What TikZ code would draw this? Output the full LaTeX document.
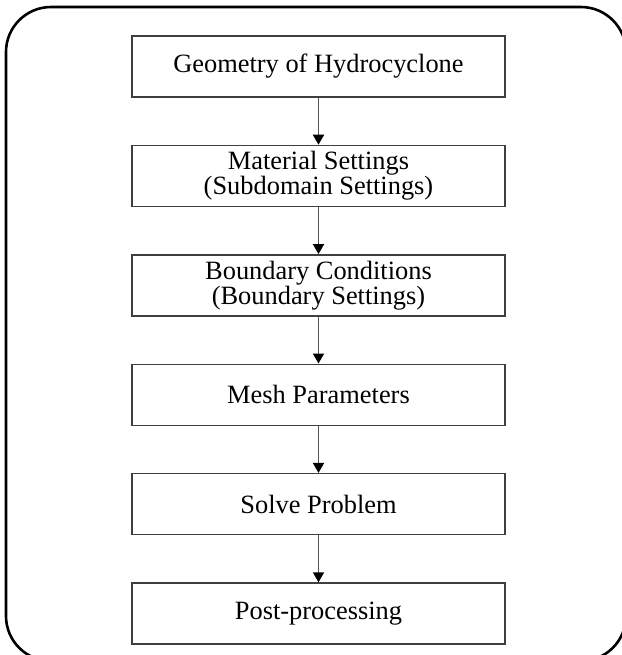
\documentclass[tikz,border=0pt]{standalone}
\usepackage{fontspec}
\setmainfont{Liberation Serif}
\usetikzlibrary{arrows.meta,positioning}
\usepackage{xcolor}
\definecolor{FrameGray}{HTML}{3F3F3F}
\definecolor{LinkGray}{HTML}{555555}

\begin{document}
\begin{tikzpicture}[x=0.5pt,y=-0.5pt,
  stage/.style={draw=FrameGray, line width=0.7pt, minimum width=186.5pt,
    minimum height=30.5pt, inner sep=0pt, align=center,
    font=\fontsize{13.2}{12.5}\selectfont},
  link/.style={LinkGray, line width=0.9pt,
    -{Triangle[width=5.5pt,length=5pt,color=black]}},
  node distance=23.5pt]
  \useasboundingbox (0,0) rectangle (622,655);
  % outer frame, cut by the page on the right and at the bottom
  \draw[line width=1.3pt, rounded corners=22.5pt] (6,7) rectangle (626,661);

  \node[stage] (geom) at (318.5,66.5) {Geometry of Hydrocyclone};
  \node[stage, below=of geom] (mat) {Material Settings\\(Subdomain Settings)};
  \node[stage, below=of mat] (bound) {Boundary Conditions\\(Boundary Settings)};
  \node[stage, below=of bound] (mesh) {Mesh Parameters};
  \node[stage, below=of mesh] (solve) {Solve Problem};
  \node[stage, below=of solve] (post) {Post-processing};

  \draw[link] (geom) -- (mat);
  \draw[link] (mat) -- (bound);
  \draw[link] (bound) -- (mesh);
  \draw[link] (mesh) -- (solve);
  \draw[link] (solve) -- (post);
\end{tikzpicture}
\end{document}
